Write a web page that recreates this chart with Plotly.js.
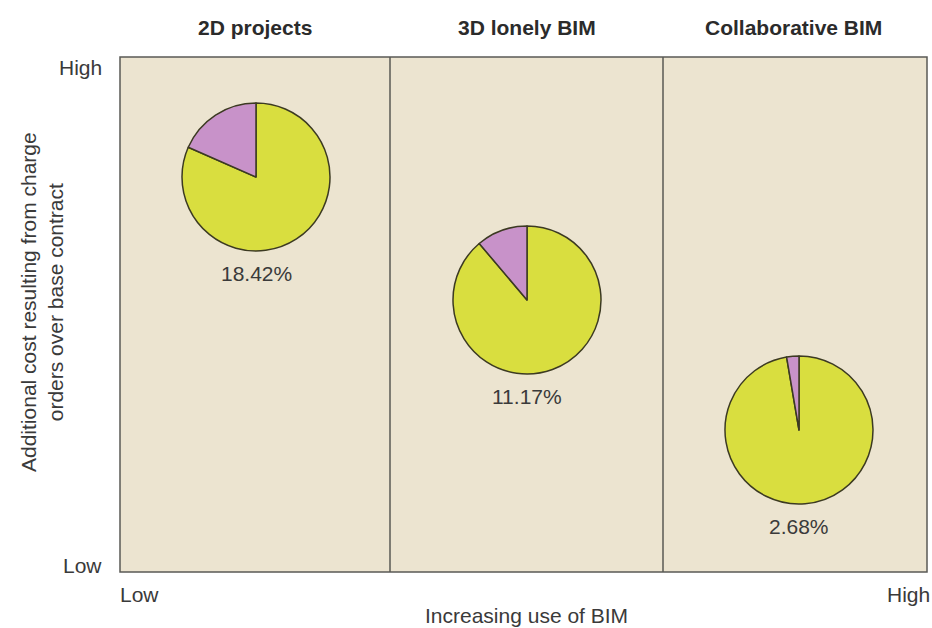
<!DOCTYPE html>
<html>
<head>
<meta charset="utf-8">
<script src="https://cdn.plot.ly/plotly-3.0.1.min.js"></script>
<style>html,body{margin:0;padding:0;background:#fff;}#chart{width:932px;height:628px;}</style>
</head>
<body>
<div id="chart"></div>
<script>
// ---- data ----
var categories = ["2D projects", "3D lonely BIM", "Collaborative BIM"];
var changeOrderPct = [18.42, 11.17, 2.68];
var sliceLabels = ["Base contract", "Change orders"];
var yTickLabels = ["Low", "High"];
var xTickLabels = ["Low", "High"];
var xTitle = "Increasing use of BIM";
var yTitle = "Additional cost resulting from charge<br>orders over base contract";

// ---- layout geometry (pixels) ----
var W = 932, H = 628;
var L = 120, R = 927, T = 57, B = 572;
var pw = R - L, ph = B - T;
function px(x) { return (x - L) / pw; }
function py(y) { return (B - y) / ph; }
var pieCenters = [[256, 177], [527, 300], [799, 430]];
var pieR = 74;
var labelOffset = 96;
var headerX = [255, 527, 793];
var dividers = [390, 663];

var C_YEL = "#d9de3f", C_PUR = "#c892c9", C_BG = "#ece4d0", C_LINE = "#5a5a55";
var FAM = "Liberation Sans, Arial, sans-serif";

var traces = categories.map(function (c, i) {
  var cx = pieCenters[i][0], cy = pieCenters[i][1];
  return {
    type: "pie",
    name: c,
    labels: sliceLabels,
    values: [100 - changeOrderPct[i], changeOrderPct[i]],
    sort: false,
    direction: "clockwise",
    rotation: 0,
    textinfo: "none",
    hoverinfo: "label+percent",
    showlegend: false,
    marker: { colors: [C_YEL, C_PUR], line: { color: "#3c3a22", width: 1.5 } },
    domain: { x: [px(cx - pieR), px(cx + pieR)], y: [py(cy + pieR), py(cy - pieR)] }
  };
});

var annotations = [];
categories.forEach(function (c, i) {
  annotations.push({ text: "<b>" + c + "</b>", x: px(headerX[i]), y: py(27), xref: "paper", yref: "paper",
    showarrow: false, xanchor: "center", yanchor: "middle", font: { size: 21, color: "#2b2b2b", family: FAM } });
  annotations.push({ text: changeOrderPct[i].toFixed(2) + "%", x: px(pieCenters[i][0]), y: py(pieCenters[i][1] + labelOffset),
    xref: "paper", yref: "paper", showarrow: false, xanchor: "center", yanchor: "middle",
    font: { size: 21, color: "#3a3a3a", family: FAM } });
});
var tf = { size: 21, color: "#3a3a3a", family: FAM };
annotations.push({ text: yTickLabels[1], x: px(104), y: py(68), xref: "paper", yref: "paper", showarrow: false, xanchor: "right", yanchor: "middle", font: tf });
annotations.push({ text: yTickLabels[0], x: px(104), y: py(565), xref: "paper", yref: "paper", showarrow: false, xanchor: "right", yanchor: "middle", font: tf });
annotations.push({ text: xTickLabels[0], x: px(118), y: py(594), xref: "paper", yref: "paper", showarrow: false, xanchor: "left", yanchor: "middle", font: tf });
annotations.push({ text: xTickLabels[1], x: px(932), y: py(594), xref: "paper", yref: "paper", showarrow: false, xanchor: "right", yanchor: "middle", font: tf });
annotations.push({ text: xTitle, x: px(526), y: py(615), xref: "paper", yref: "paper", showarrow: false, xanchor: "center", yanchor: "middle", font: tf });
annotations.push({ text: yTitle, x: px(42), y: py(302), xref: "paper", yref: "paper", showarrow: false, xanchor: "center", yanchor: "middle",
  textangle: -90, font: tf });

var shapes = [{ type: "rect", xref: "paper", yref: "paper", x0: 0, x1: 1, y0: 0, y1: 1,
  fillcolor: C_BG, line: { color: C_LINE, width: 1.5 }, layer: "below" }];
dividers.forEach(function (d) {
  shapes.push({ type: "line", xref: "paper", yref: "paper", x0: px(d), x1: px(d), y0: 0, y1: 1,
    line: { color: C_LINE, width: 1.5 }, layer: "below" });
});

var layout = {
  width: W, height: H,
  margin: { l: L, r: W - R, t: T, b: H - B, pad: 0 },
  paper_bgcolor: "#ffffff",
  plot_bgcolor: "rgba(0,0,0,0)",
  showlegend: false,
  shapes: shapes,
  annotations: annotations,
  font: { family: FAM }
};
Plotly.newPlot("chart", traces, layout, { displayModeBar: false, staticPlot: true });
</script>
</body>
</html>
